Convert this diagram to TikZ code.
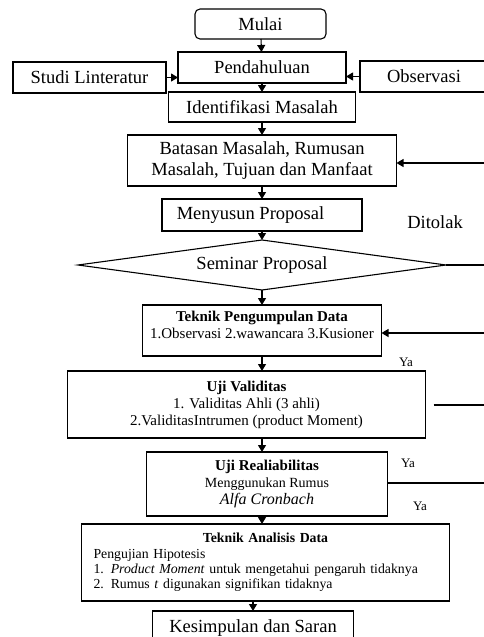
\documentclass[tikz,border=0pt]{standalone}
\usepackage{fontspec}
\setmainfont{Liberation Serif}
\usetikzlibrary{arrows.meta,shapes,positioning}

\begin{document}
\begin{tikzpicture}[->,>={Triangle[length=7pt,width=8pt]},x=1pt,y=1pt,
	line width=1.1pt,
	main node/.style={draw,rectangle,inner sep=2pt,outer sep=0pt,align=center,
		font=\fontsize{18.5}{21}\selectfont},
	info node/.style={draw,rectangle,inner sep=2pt,outer sep=0pt,align=center,
		font=\fontsize{15}{17}\selectfont},
	list node/.style={draw,rectangle,inner xsep=12pt,inner ysep=2pt,outer sep=0pt,
		text width=344pt,align=left,font=\fontsize{13.8}{15}\selectfont},
	label node/.style={font=\fontsize{13}{15}\selectfont}]

	\useasboundingbox (0,0) rectangle (484,-637);
	\clip (0,0) rectangle (484,-637);

	\node[main node,rounded corners=5pt,minimum width=131pt,minimum height=30pt] (1) at (260.5,-24) {Mulai};
	\node[main node,minimum width=168pt,minimum height=31pt] (2) [below=13pt of 1,xshift=1.5pt] {Pendahuluan};
	\node[main node,minimum width=153pt,minimum height=31pt] (3) [left=12pt of 2,yshift=-10pt] {Studi Linteratur};
	\node[main node,minimum width=128pt,minimum height=31pt] (4) [right=14pt of 2,yshift=-9pt] {Observasi};
	\node[main node,minimum width=187pt,minimum height=30pt] (5) [below=9pt of 2] {Identifikasi Masalah};
	\node[main node,minimum width=269pt,minimum height=51pt] (6) [below=13pt of 5] {Batasan Masalah, Rumusan\\Masalah, Tujuan dan Manfaat};
	\node[main node,minimum width=200pt,minimum height=32pt] (7) [below=13pt of 6] {Menyusun Proposal\hspace*{23pt}};
	\node[main node,diamond,aspect=7.36,inner sep=0pt,minimum width=368pt,minimum height=50pt] (8) [below=9pt of 7] {Seminar Proposal};
	\node[info node,minimum width=239pt,minimum height=51pt] (9) [below=15pt of 8]
		{\textbf{Teknik Pengumpulan Data}\\1.Observasi 2.wawancara 3.Kusioner\\[-6pt]\mbox{}};
	\node[info node,minimum width=358pt,minimum height=67pt] (10) [below=15pt of 9,xshift=-15.5pt]
		{\textbf{Uji Validitas}\\1. Validitas Ahli (3 ahli)\\2.ValiditasIntrumen (product Moment)};
	\node[info node,minimum width=241pt,minimum height=64pt] (11) [below=14pt of 10,xshift=20.5pt]
		{\textbf{Uji Realiabilitas}\\{\fontsize{14}{16}\selectfont Menggunukan Rumus}\\{\fontsize{16}{16}\selectfont\textit{Alfa Cronbach}}};
	\node[list node,minimum height=77pt] (12) [below=8pt of 11,xshift=-1.5pt]
		{\makebox[\linewidth]{\textbf{Teknik Analisis Data}}\\[1pt]
		Pengujian Hipotesis\\
		1. \textit{Product Moment} untuk mengetahui pengaruh tidaknya\\
		2. Rumus \textit{t} digunakan signifikan tidaknya};
	\node[main node,minimum width=201pt,minimum height=34pt] (13) [below=10pt of 12,xshift=-12.5pt] {Kesimpulan dan Saran};

	% loop ends on the right edge
	\coordinate (r1) at (484,-163);
	\coordinate (r2) at (484,-265);
	\coordinate (r3) at (484,-333);
	\coordinate (r4) at (484,-405);
	\coordinate (r5) at (484,-483);

	\node[main node,draw=none] (tolak) at (435,-222) {Ditolak};
	\node[label node] (ya1) at (406,-362) {Ya};
	\node[label node] (ya2) at (408,-463) {Ya};
	\node[label node] (ya3) at (420,-506) {Ya};

	\path
	(1) edge (2)
	(2) edge (5)
	(5) edge (6)
	(6) edge (7)
	(7) edge (8)
	(8) edge (9)
	(9.south) edge (9.south |- 10.north)
	(10.south -| 9.south) edge (11.north -| 9.south)
	(11.south -| 9.south) edge (12.north -| 9.south)
	(12.south -| 13.north) edge (13.north)
	(3.east) edge (3.east -| 2.west)
	(4.west) edge (4.west -| 2.east)
	(r1) edge (r1 -| 6.east)
	(r3) edge (r3 -| 9.east);

	\draw[-] (8.east) -- (8.east -| r2);
	\draw[-,shorten <=8pt] (r4 -| 10.east) -- (r4);
	\draw[-] (r5 -| 11.east) -- (r5);

\end{tikzpicture}
\end{document}
